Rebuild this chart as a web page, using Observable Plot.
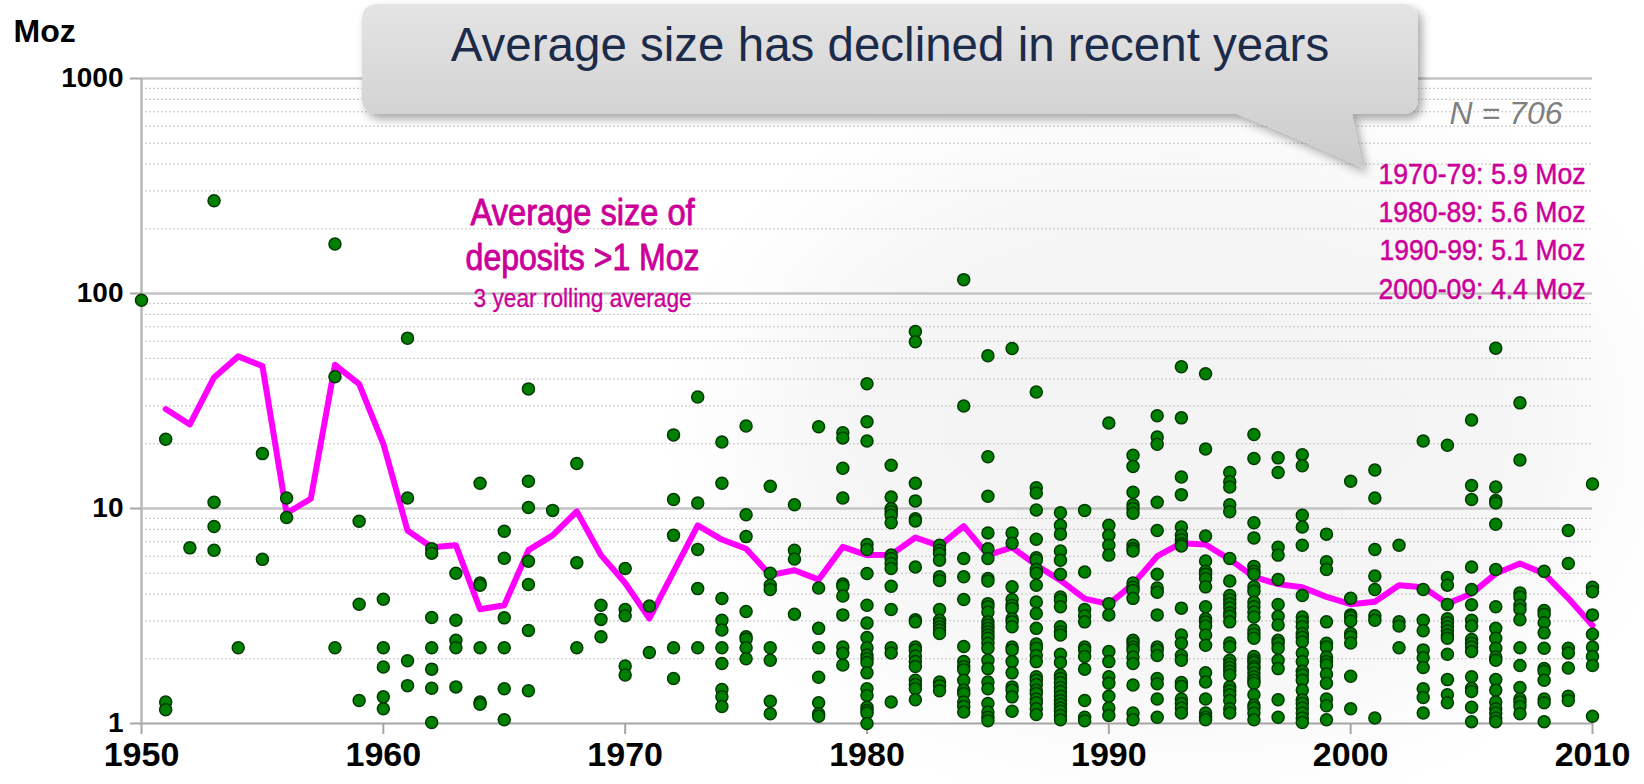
<!DOCTYPE html>
<html><head><meta charset="utf-8">
<script src="https://cdn.jsdelivr.net/npm/d3@7"></script>
<script src="https://cdn.jsdelivr.net/npm/@observablehq/plot@0.6"></script>
<style>
html,body{margin:0;padding:0;background:#fff;}
#wrap{position:relative;width:1644px;height:784px;overflow:hidden;font-family:"Liberation Sans",Arial,sans-serif;}
#bg,#chart,#overlay{position:absolute;left:0;top:0;}
</style></head>
<body><div id="wrap"><svg id="bg" width="1644" height="784"></svg><div id="chart"></div></div>
<script>
// Deposit sizes (Moz), one inner list per year, starting at the decade's first year
const dep1950s = [[93],[21,1.26,1.16],[6.56],[270,10.7,8.25,6.4],[2.25],[18,5.8],[11.2,9.08],[],[170,41,2.25],[8.73,3.59,1.28]];
const dep1960s = [[3.78,2.25,1.83,1.33,1.17],[62,11.2,1.96,1.5],[6.5,6.2,3.11,2.25,1.79,1.46,1.01],[5.0,3.02,2.44,2.25,1.48],[13.1,4.5,4.4,2.25,1.26,1.23],[7.84,5.87,3.1,2.25,1.45,1.04],[36,13.4,10.1,5.69,4.43,2.71,1.42],[9.8],[16.2,5.6,2.25],[3.55,3.05,2.53]];
const dep1970s = [[5.26,3.39,3.17,1.85,1.68],[3.52,2.14],[22,11,7.5,2.25,1.62],[33,10.6,6.45,4.24,2.25],[20.4,13.1,3.81,3.02,2.72,2.25,1.9,1.44,1.33,1.2],[24.2,9.35,7.4,3.32,2.53,2.47,2.25,2.0],[12.7,5.0,4.4,4.2,2.25,1.97,1.27,1.11],[10.4,6.4,5.82,3.22],[24,4.27,2.77,2.25,1.64,1.25,1.11,1.08],[22.5,21.3,15.4,11.2,4.45,4.35,3.92,3.2,2.27,2.12,1.87]];
const dep1980s = [
  [38,25.3,20.6,6.8,6.45,4.98,3.55,2.93,2.51,2.25,2.08,2.0,1.92,1.72,1.45,1.35,1.19,1.15,1.12,1.0],
  [15.9,11.3,10.0,9.65,9.3,8.58,6.07,5.85,5.55,5.26,4.35,3.39,2.25,2.13,1.26],
  [66.6,59.6,13.1,10.85,8.97,8.75,5.35,3.04,2.97,2.27,2.2,2.06,1.94,1.84,1.59,1.52,1.45,1.29],
  [6.75,6.4,6.17,5.74,4.81,4.63,3.39,3.02,2.92,2.82,2.72,2.62,1.56,1.5,1.42],
  [116,30,5.85,4.81,3.77,2.28,1.94,1.84,1.78,1.59,1.43,1.38,1.26,1.2,1.13],
  [51.3,17.4,11.4,7.7,6.5,5.85,4.72,4.6,3.61,3.49,3.3,2.97,2.87,2.77,2.67,2.58,2.49,2.36,2.24,1.97,1.8,1.56,1.45,1.24,1.13,1.07,1.03],
  [55.5,7.7,6.9,4.32,3.77,3.55,3.43,3.07,2.97,2.82,2.27,2.2,1.94,1.72,1.48,1.43,1.33,1.14],
  [34.8,12.5,11.8,9.85,7.2,5.9,5.75,5.2,5.0,4.4,3.67,3.25,2.77,2.34,2.24,2.07,1.94,1.65,1.59,1.52,1.43,1.38,1.3,1.25,1.17,1.1],
  [9.55,8.35,7.6,6.35,5.75,4.95,3.88,3.75,3.49,2.82,2.67,2.58,2.1,1.92,1.68,1.62,1.55,1.47,1.41,1.34,1.28,1.23,1.18,1.14,1.09,1.04],
  [9.8,5.07,3.39,3.17,2.97,2.27,2.2,2.05,1.79,1.28,1.07,1.03]
];
const dep1990s = [
  [25,8.35,7.5,6.75,6.07,3.61,3.2,2.16,1.94,1.65,1.54,1.34,1.18,1.09],
  [17.7,15.7,11.9,10.4,10.0,9.5,6.75,6.5,6.35,4.5,4.3,4.16,3.82,2.44,2.36,2.27,2.2,2.04,1.9,1.51,1.12,1.04],
  [27,21.5,19.9,10.7,7.9,4.95,4.27,4.08,3.2,2.27,2.2,2.07,1.62,1.53,1.3,1.07],
  [45.6,26.4,14,11.6,8.2,7.5,7.15,6.85,6.7,3.44,2.58,2.36,2.07,1.97,1.55,1.49,1.3,1.24,1.18,1.12],
  [42.3,18.9,7.45,5.7,5.1,4.95,4.72,4.32,3.49,3.07,2.97,2.84,2.58,2.31,1.72,1.56,1.3,1.12,1.07,1.04],
  [14.7,13.3,12.6,10.4,9.65,5.85,4.6,3.94,3.77,3.61,3.45,3.27,3.15,2.97,2.37,2.27,1.97,1.89,1.82,1.75,1.68,1.48,1.42,1.36,1.28,1.17,1.12],
  [22.1,17.1,8.58,7.3,5.38,5.1,4.95,4.32,4.12,3.67,3.49,3.3,3.13,2.72,2.6,2.49,2.05,1.97,1.92,1.84,1.8,1.72,1.65,1.59,1.54,1.36,1.22,1.18,1.12,1.04],
  [17.2,14.7,6.6,6.07,4.67,3.58,3.15,2.87,2.44,2.36,2.24,1.97,1.8,1.29,1.07],
  [17.8,15.8,9.3,8.2,6.75,3.94,3.13,2.97,2.82,2.62,2.52,2.4,2.13,1.94,1.75,1.68,1.59,1.43,1.29,1.24,1.18,1.12,1.06,1.01],
  [7.6,5.65,5.2,2.97,2.36,2.27,2.04,1.94,1.87,1.7,1.54,1.3,1.21,1.04]
];
const dep2000s = [
  [13.4,3.82,3.2,3.13,3.0,2.62,2.53,2.37,1.66,1.17],
  [15.1,11.2,6.45,4.85,4.2,3.17,3.02,1.06],
  [6.75,2.97,2.84,2.25],
  [20.6,4.2,3.02,2.7,2.2,2.02,1.82,1.45,1.32,1.12],
  [19.7,4.78,4.4,3.58,3.07,2.94,2.82,2.7,2.58,2.49,2.1,1.6,1.36,1.25],
  [25.8,12.8,11.0,5.35,4.2,3.57,3.02,2.84,2.46,2.36,2.27,2.16,1.65,1.46,1.41,1.19,1.02],
  [55.7,12.6,10.9,10.6,8.45,5.2,3.49,2.77,2.49,2.24,2.04,1.97,1.6,1.43,1.26,1.17,1.12,1.06,1.02],
  [31,16.8,4.05,3.88,3.55,3.39,3.04,2.25,1.86,1.47,1.3,1.26,1.2,1.11],
  [5.1,3.35,3.22,2.94,2.64,2.24,1.8,1.75,1.59,1.3,1.25,1.02],
  [7.9,5.55,2.24,2.13,1.81,1.34,1.28]
];
const dep2010 = [[13.0,4.3,4.1,3.2,2.6,2.27,2.05,1.86,1.08]];

// 3-year rolling average (Moz)
const avgYears = [1951,1952,1953,1954,1955,1956,1957,1958,1959,1960,1961,1962,1963,1964,1965,1966,1967,1968,1969,1970,1971,1972,1973,1974,1975,1976,1977,1978,1979,1980,1981,1982,1983,1984,1985,1986,1987,1988,1989,1990,1991,1992,1993,1994,1995,1996,1997,1998,1999,2000,2001,2002,2003,2004,2005,2006,2007,2008,2009,2010];
const avgValues = [29,24.6,40.7,51,46,9.5,11.1,46.6,37.9,20,7.9,6.6,6.75,3.4,3.55,6.4,7.5,9.7,6.07,4.5,3.08,5.07,8.35,7.17,6.5,4.9,5.16,4.67,6.63,6.07,6.1,7.33,6.7,8.28,6.07,6.6,5.45,4.63,3.81,3.59,4.45,6.0,6.9,6.8,5.8,4.81,4.45,4.3,3.88,3.59,3.68,4.4,4.3,3.61,4.02,4.98,5.55,4.98,3.82,2.86];

// Axis ticks
const xTicks = [1950,1960,1970,1980,1990,2000,2010];
const yTicks = [1,10,100,1000];
const yMinor = [2,3,4,5,6,7,8,9,20,30,40,50,60,70,80,90,200,300,400,500,600,700,800,900];

// Annotation texts
const decadeStats = ["1970-79: 5.9 Moz","1980-89: 5.6 Moz","1990-99: 5.1 Moz","2000-09: 4.4 Moz"];
const statY = [360,239,158.5,105];
const titleLines = ["Average size of","deposits >1 Moz"];
const titleY = [235,145];
const subTitle = "3 year rolling average";
const calloutText = "Average size has declined in recent years";

const decades = [[1950,dep1950s],[1960,dep1960s],[1970,dep1970s],[1980,dep1980s],[1990,dep1990s],[2000,dep2000s],[2010,dep2010]];
const points = decades.flatMap(([start, arr]) => arr.flatMap((vals, i) => vals.map(v => ({year: start + i, value: v}))));
const avg = avgYears.map((y, i) => ({year: y, value: avgValues[i]}));
const stats = decadeStats.map((t, i) => ({text: t, y: statY[i]}));
const titles = titleLines.map((t, i) => ({text: t, y: titleY[i]}));

const pink = "#cc0099";
const font = "'Liberation Sans', Arial, sans-serif";

// faint background sweep
const bg = d3.select("#bg");
const bf = bg.append("defs").append("filter").attr("id", "blur").attr("x", "-50%").attr("y", "-50%").attr("width", "200%").attr("height", "200%");
bf.append("feGaussianBlur").attr("stdDeviation", 70);
bg.append("ellipse").attr("cx", 1180).attr("cy", 430).attr("rx", 430).attr("ry", 300)
  .attr("fill", "#000").attr("opacity", 0.04).attr("filter", "url(#blur)");

const chart = Plot.plot({
  width: 1644, height: 784,
  marginLeft: 141, marginRight: 52, marginTop: 78, marginBottom: 61,
  x: {domain: [1950, 2010]},
  y: {type: "log", domain: [1, 1000]},
  style: {fontFamily: font, background: "transparent", overflow: "visible", color: "#000"},
  marks: [
    Plot.ruleY(yMinor, {stroke: "#c2c2c2", strokeWidth: 1, strokeDasharray: "2,2"}),
    Plot.ruleY([10, 100, 1000], {stroke: "#c4c4c4", strokeWidth: 2.5}),
    Plot.ruleY([1], {stroke: "#a6a6a6", strokeWidth: 2}),
    Plot.ruleX([1950], {stroke: "#b8b8b8", strokeWidth: 2.5}),
    Plot.axisY({ticks: yTicks, tickFormat: d => String(d), tickSize: 11, tickPadding: 7, fontSize: 28, fontWeight: "bold", stroke: "#a6a6a6", strokeWidth: 2, label: null}),
    Plot.axisX({ticks: xTicks, tickFormat: d => String(d), tickSize: 11, tickPadding: 7, fontSize: 34, fontWeight: "bold", stroke: "#a6a6a6", strokeWidth: 2, label: null}),
    Plot.line(avg, {x: "year", y: "value", stroke: "#ff00ff", strokeWidth: 6, strokeLinejoin: "round"}),
    Plot.dot(points, {x: "year", y: "value", r: 6, fill: "#008000", stroke: "#003a00", strokeWidth: 1.5}),
    Plot.text(["Moz"], {frameAnchor: "top-left", dx: -128, dy: -59, textAnchor: "start", lineAnchor: "top", fontSize: 32, fontWeight: "bold", fill: "#000"}),
    Plot.text(titles, {x: 1968.24, y: "y", text: "text", fontSize: 36, fill: pink, stroke: pink, strokeWidth: 0.9}),
    Plot.text([subTitle], {x: 1968.24, y: 94.4, fontSize: 25, fill: pink, stroke: pink, strokeWidth: 0.3}),
    Plot.text(stats, {x: 2009.71, y: "y", text: "text", textAnchor: "end", fontSize: 30, fill: pink, stroke: pink, strokeWidth: 0.5}),
    Plot.text(["N = 706"], {x: 2008.76, y: 684, textAnchor: "end", fontSize: 32, fontStyle: "italic", fill: "#808080"})
  ]
});
document.getElementById("chart").appendChild(chart);

// condense the pink annotation texts to the narrow widths of the original
const narrowWidths = new Map([["Average size of", 224], ["deposits >1 Moz", 234], ["3 year rolling average", 218],
  ["1970-79: 5.9 Moz", 207], ["1980-89: 5.6 Moz", 207], ["1990-99: 5.1 Moz", 206], ["2000-09: 4.4 Moz", 207]]);
d3.select(chart).selectAll("text").each(function() {
  const w = narrowWidths.get(this.textContent);
  if (w) d3.select(this).attr("textLength", w).attr("lengthAdjust", "spacingAndGlyphs").attr("paint-order", "normal");
});

// Callout bubble (decoration drawn on top)
const ov = d3.select("#wrap").append("svg").attr("id", "overlay").attr("width", 1644).attr("height", 784);
const defs = ov.append("defs");
const g = defs.append("linearGradient").attr("id", "cg").attr("x1", 0).attr("y1", 0).attr("x2", 0).attr("y2", 1);
g.append("stop").attr("offset", "0%").attr("stop-color", "#e4e4e4");
g.append("stop").attr("offset", "100%").attr("stop-color", "#cbcbcb");
const f = defs.append("filter").attr("id", "sh").attr("x", "-10%").attr("y", "-30%").attr("width", "130%").attr("height", "180%");
f.append("feDropShadow").attr("dx", 4).attr("dy", 5).attr("stdDeviation", 5).attr("flood-color", "#000").attr("flood-opacity", 0.35);
const bx0 = 362, bx1 = 1418, by0 = 4, by1 = 114, r = 16;
const p = d3.path();
p.moveTo(bx0 + r, by0);
p.lineTo(bx1 - r, by0); p.quadraticCurveTo(bx1, by0, bx1, by0 + r);
p.lineTo(bx1, by1 - r); p.quadraticCurveTo(bx1, by1, bx1 - r, by1);
p.lineTo(1352, by1); p.lineTo(1363, 168); p.quadraticCurveTo(1290, 135, 1237, by1);
p.lineTo(bx0 + r, by1); p.quadraticCurveTo(bx0, by1, bx0, by1 - r);
p.lineTo(bx0, by0 + r); p.quadraticCurveTo(bx0, by0, bx0 + r, by0);
p.closePath();
ov.append("path").attr("d", p.toString()).attr("fill", "url(#cg)").attr("filter", "url(#sh)");
ov.append("text").attr("x", 890).attr("y", 61).attr("text-anchor", "middle")
  .attr("font-family", font).attr("font-size", 47.5).attr("fill", "#1c2b4a").text(calloutText);
</script>
</body></html>
